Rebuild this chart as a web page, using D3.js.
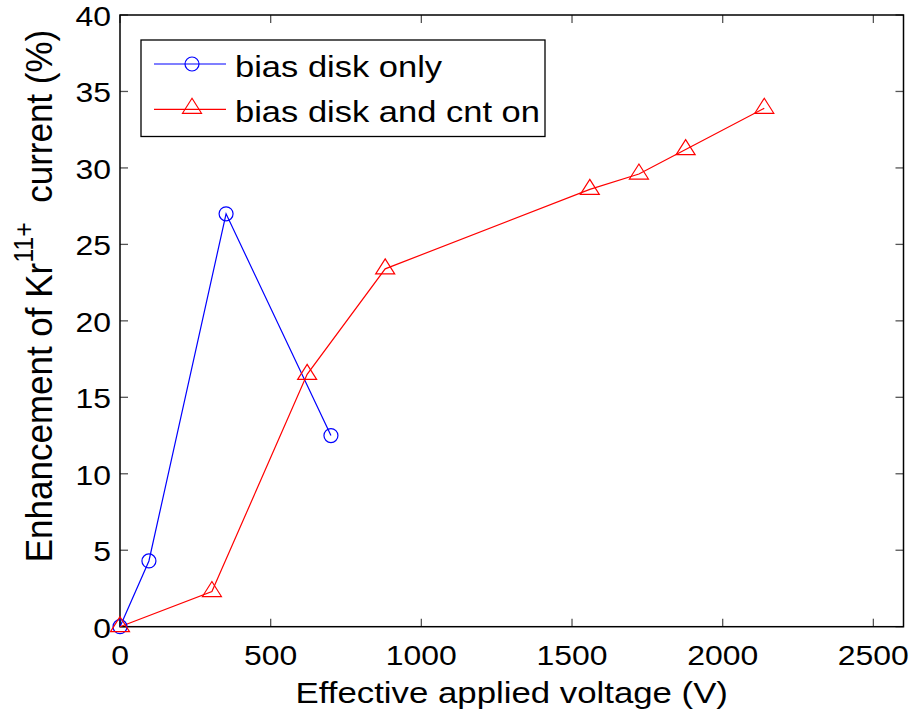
<!DOCTYPE html>
<html><head><meta charset="utf-8">
<script src="https://cdn.jsdelivr.net/npm/d3@7"></script>
<style>body{margin:0;background:#fff}svg{display:block}text{font-family:"Liberation Sans",Arial,sans-serif;fill:#000}</style>
</head><body>
<script>
const biasX = [0, 96, 352, 700];
const biasY = [0, 4.3, 27.0, 12.5];
const cntX = [0, 305, 621, 880, 1559, 1722, 1877, 2138];
const cntY = [0, 2.3, 16.5, 23.4, 28.6, 29.6, 31.2, 33.9];
const xTicks = [0, 500, 1000, 1500, 2000, 2500];
const yTicks = [0, 5, 10, 15, 20, 25, 30, 35, 40];
const legendLabels = ["bias disk only", "bias disk and cnt on"];

const W = 914, H = 718;
const L = 120, R = 903.5, T = 15, B = 626.7;
const svg = d3.select("body").append("svg").attr("width", W).attr("height", H);
const x = d3.scaleLinear().domain([0, 2600]).range([L, R]);
const y = d3.scaleLinear().domain([0, 40]).range([B, T]);

function txt(px, py, s, fs, sx, anchor) {
  return svg.append("text").attr("transform", `translate(${px},${py}) scale(${sx},1)`)
    .attr("text-anchor", anchor).attr("font-size", fs).text(s);
}

// ticks (inward, all four sides)
const tk = 8;
const tickG = svg.append("g").attr("stroke", "#555").attr("stroke-width", 1.3);
xTicks.forEach(v => {
  tickG.append("line").attr("x1", x(v)).attr("x2", x(v)).attr("y1", B).attr("y2", B - tk);
  tickG.append("line").attr("x1", x(v)).attr("x2", x(v)).attr("y1", T).attr("y2", T + tk);
});
yTicks.forEach(v => {
  tickG.append("line").attr("x1", L).attr("x2", L + tk).attr("y1", y(v)).attr("y2", y(v));
  tickG.append("line").attr("x1", R).attr("x2", R - tk).attr("y1", y(v)).attr("y2", y(v));
});
svg.append("rect").attr("x", L).attr("y", T).attr("width", R - L).attr("height", B - T)
  .attr("fill", "none").attr("stroke", "#000").attr("stroke-width", 1.5);

// tick labels
xTicks.forEach(v => txt(x(v), 665, v, 28, 1.14, "middle"));
yTicks.forEach(v => txt(111, y(v) + 11, v, 28, 1.14, "end"));

// axis labels
txt((L + R) / 2, 703, "Effective applied voltage (V)", 30, 1.16, "middle");
const yl = svg.append("text").attr("transform", `translate(52,296) rotate(-90) scale(1,1.08)`)
  .attr("text-anchor", "middle").attr("font-size", 35);
yl.append("tspan").text("Enhancement of Kr");
yl.append("tspan").attr("font-size", 25).attr("dy", -18).text("11+");
yl.append("tspan").attr("dy", 18).text("\u00a0\u00a0current (%)");

// series
const line = d3.line().x(d => x(d[0])).y(d => y(d[1]));
const bias = biasX.map((v, i) => [v, biasY[i]]);
const cnt = cntX.map((v, i) => [v, cntY[i]]);
svg.append("path").datum(bias).attr("d", line).attr("fill", "none").attr("stroke", "#0000ff").attr("stroke-width", 1.2);
svg.append("path").datum(cnt).attr("d", line).attr("fill", "none").attr("stroke", "#ff0000").attr("stroke-width", 1.2);

const tri = (cx, cy) => `M${cx},${cy - 10}L${cx + 9.5},${cy + 5}L${cx - 9.5},${cy + 5}Z`;
svg.append("g").selectAll("circle").data(bias).join("circle")
  .attr("cx", d => x(d[0])).attr("cy", d => y(d[1])).attr("r", 7)
  .attr("fill", "none").attr("stroke", "#0000ff").attr("stroke-width", 1.2);
svg.append("g").selectAll("path").data(cnt).join("path")
  .attr("d", d => tri(x(d[0]), y(d[1])))
  .attr("fill", "none").attr("stroke", "#ff0000").attr("stroke-width", 1.2);

// legend
const lg = svg.append("g");
lg.append("rect").attr("x", 141).attr("y", 40).attr("width", 404).attr("height", 96.5)
  .attr("fill", "#fff").attr("stroke", "#000").attr("stroke-width", 1.3);
const rows = [{c: "#0000ff", y: 64}, {c: "#ff0000", y: 109.3}];
rows.forEach((r, i) => {
  lg.append("line").attr("x1", 154).attr("x2", 226).attr("y1", r.y).attr("y2", r.y)
    .attr("stroke", r.c).attr("stroke-width", 1.2);
  if (i === 0) lg.append("circle").attr("cx", 192).attr("cy", r.y).attr("r", 7)
    .attr("fill", "none").attr("stroke", r.c).attr("stroke-width", 1.2);
  else lg.append("path").attr("d", tri(192, r.y - 1)).attr("fill", "none").attr("stroke", r.c).attr("stroke-width", 1.2);
  lg.append("text").attr("transform", `translate(235,${r.y + 12.7}) scale(1.17,1)`)
    .attr("font-size", 29.5).text(legendLabels[i]);
});
</script>
</body></html>
